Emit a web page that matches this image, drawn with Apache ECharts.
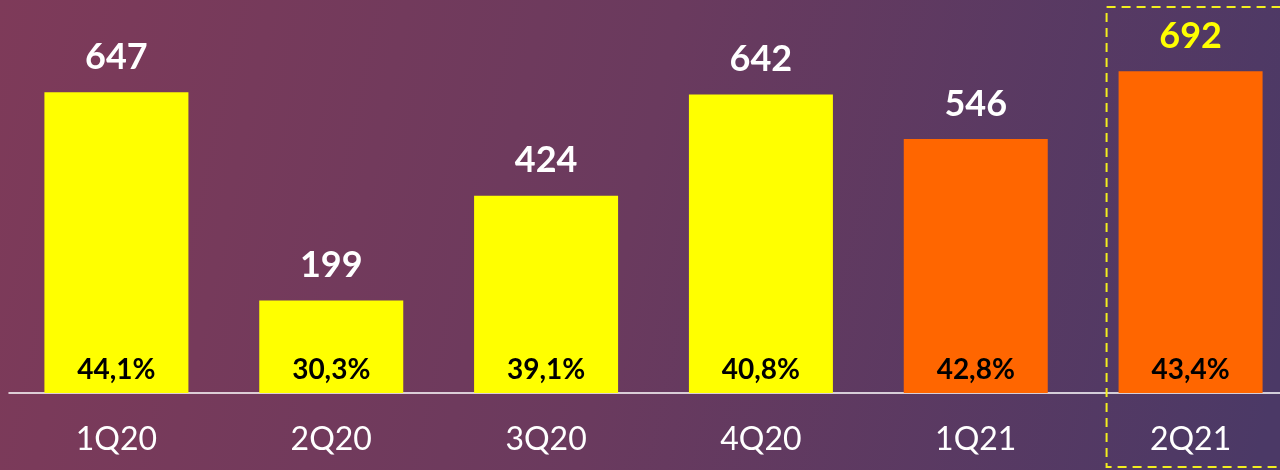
<!DOCTYPE html>
<html>
<head>
<meta charset="utf-8">
<script src="https://cdn.jsdelivr.net/npm/echarts@6/dist/echarts.min.js"></script>
<style>
  html, body { margin: 0; padding: 0; overflow: hidden; }
  #chart { width: 1298px; height: 470px; }
</style>
</head>
<body>
<div id="chart"></div>
<script>
const quarters = ["1Q20", "2Q20", "3Q20", "4Q20", "1Q21", "2Q21"];
const values = [647, 199, 424, 642, 546, 692];
const margins = ["44,1%", "30,3%", "39,1%", "40,8%", "42,8%", "43,4%"];
const barColors = ["#ffff00", "#ffff00", "#ffff00", "#ffff00", "#ff6600", "#ff6600"];
const topLabelColors = ["#ffffff", "#ffffff", "#ffffff", "#ffffff", "#ffffff", "#ffff00"];
const highlight = "2Q21";

const font = "Lato, 'Open Sans', sans-serif";
const chart = echarts.init(document.getElementById("chart"));

chart.setOption({
    animation: false,
    backgroundColor: new echarts.graphic.LinearGradient(0, 0, 1, 0.6, [
        { offset: 0, color: "#7e3a59" },
        { offset: 0.5, color: "#6a3a5e" },
        { offset: 1, color: "#4b3966" }
    ]),
    grid: { left: 9, right: 0, top: 21, bottom: 77 },
    xAxis: {
        type: "category",
        data: quarters,
        axisLine: { lineStyle: { color: "#ffffff", width: 1.5 } },
        axisTick: { show: false },
        axisLabel: { color: "#ffffff", fontSize: 32, fontFamily: font, margin: 31 }
    },
    yAxis: { type: "value", min: 0, max: 800, show: false, splitLine: { show: false } },
    series: [
        {
            type: "bar",
            barWidth: 144,
            data: values.map((v, i) => ({
                value: v,
                itemStyle: { color: barColors[i] },
                label: { color: topLabelColors[i] }
            })),
            label: {
                show: true,
                position: "top",
                distance: 17,
                fontSize: 36,
                fontWeight: "bold",
                fontFamily: font
            },
            z: 2
        },
        {
            // percentage labels sit inside the same bars
            type: "bar",
            barWidth: 144,
            barGap: "-100%",
            data: values,
            itemStyle: { color: "transparent" },
            label: {
                show: true,
                position: "insideBottom",
                distance: 9,
                color: "#000000",
                fontSize: 28,
                fontWeight: "bold",
                fontFamily: font,
                formatter: p => margins[p.dataIndex]
            },
            z: 3
        }
    ]
});

// dashed frame around the highlighted quarter
const cx = chart.convertToPixel({ xAxisIndex: 0 }, highlight);
chart.setOption({
    graphic: [{
        type: "rect",
        shape: { x: cx - 84, y: 7, width: 200, height: 460 },
        style: { fill: "none", stroke: "#f2ee1e", lineWidth: 2, lineDash: [9, 6] },
        z: 10
    }]
});
</script>
</body>
</html>
